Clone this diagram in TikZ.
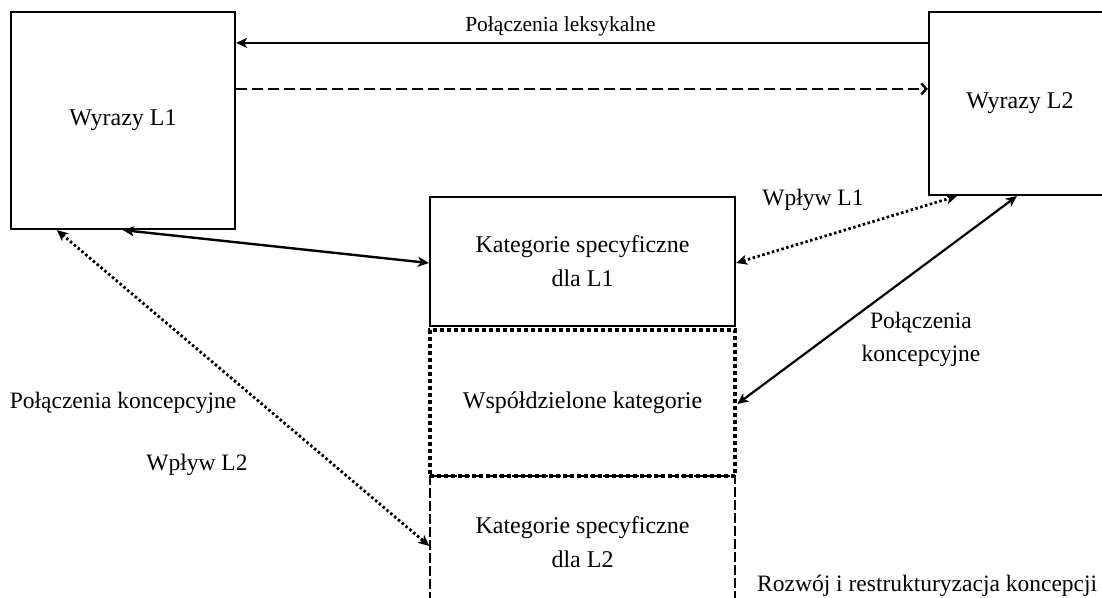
\documentclass[tikz,border=0pt]{standalone}
\usepackage{fontspec}
\setmainfont{Liberation Serif}
\usetikzlibrary{arrows.meta}

\tikzset{
  wordbox/.style={draw, line width=2.2pt, minimum width=224pt, minimum height=217pt,
    inner sep=0pt, font=\fontsize{24}{33}\selectfont},
  catbox/.style={draw, minimum width=305pt, inner sep=0pt, align=center,
    font=\fontsize{24}{34}\selectfont},
  lbl/.style={font=\fontsize{23.5}{33}\selectfont, align=center, inner sep=0pt},
  link/.style={line width=2.4pt},
  tip/.style={-{Stealth[length=11pt,width=10pt,inset=3pt]}},
  both/.style={{Stealth[length=11pt,width=10pt,inset=3pt]}-{Stealth[length=11pt,width=10pt,inset=3pt]}},
  dots/.style={line width=2.8pt, dash pattern=on 2.5pt off 2.5pt},
  dashline/.style={line width=2.4pt, dash pattern=on 11pt off 5pt}
}

\begin{document}
\begin{tikzpicture}[x=1pt, y=-1pt]
\useasboundingbox (0,0) rectangle (1102,597);

% word stores
\node[wordbox] (l1) at (123,120.5) {Wyrazy L1};
\node[wordbox, minimum width=182pt, minimum height=183pt] (l2) at (1020,103.5) {Wyrazy L2};

% conceptual categories
\node[catbox, line width=2.2pt, minimum height=129pt] (k1) at (582.5,261.5)
  {Kategorie specyficzne\\dla L1};
\node[catbox, line width=4.5pt, dash pattern=on 4pt off 3pt, minimum height=146pt] (w) at (582.5,403)
  {Współdzielone kategorie};
\node[catbox, line width=1.4pt, dash pattern=on 10pt off 3pt, minimum height=132pt] (k2) at (582.5,542)
  {Kategorie specyficzne\\dla L2};

% lexical links
\draw[link, tip] ([yshift=-32pt]l2.north west) -- ([yshift=-32pt]l1.north east);
\draw[dashline, -{Straight Barb[length=5pt,width=11pt]}]
  ([yshift=-78pt]l1.north east) -- ([yshift=-78pt]l2.north west);

% conceptual links
\draw[link, both] (l1.south) -- ([yshift=-1.5pt]k1.west);
\draw[dots, both] ([yshift=-1.5pt]k1.east) -- ([xshift=29pt]l2.south west);
\draw[link, line width=2.2pt, both] ([yshift=-1pt]w.east) -- ([xshift=89pt]l2.south west);
\draw[dots, both] ([xshift=47pt]l1.south west) -- ([yshift=-4pt]k2.west);

% labels
\node[lbl, font=\fontsize{21.5}{30}\selectfont] (t1) at (560.5,26) {Połączenia leksykalne};
\node[lbl] (t2) at (813,200) {Wpływ L1};
\node[lbl] (t3) at (921,339) {Połączenia\\koncepcyjne};
\node[lbl] (t4) at (123,403) {Połączenia koncepcyjne};
\node[lbl] (t5) at (197,465) {Wpływ L2};
\node[lbl, anchor=west] (t6) at (757,586) {Rozwój i restrukturyzacja koncepcji};
\end{tikzpicture}
\end{document}
